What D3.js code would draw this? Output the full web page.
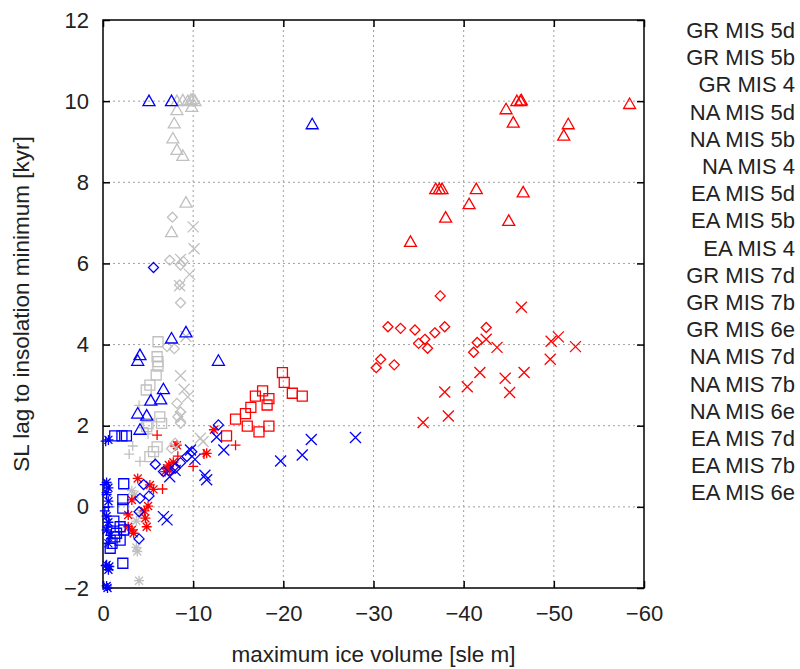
<!DOCTYPE html>
<html><head><meta charset="utf-8">
<script src="https://cdn.jsdelivr.net/npm/d3@7"></script>
<style>body{margin:0;background:#fff}svg{display:block}text{font-family:"Liberation Sans",Arial,sans-serif;fill:#222}</style>
</head><body><svg id="c" width="800" height="669"></svg>
<script>
// ---- data: [maximum ice volume (sle m), SL lag (kyr)] ----
const GR_MIS5d = [[-4.0,2.5],[-3.3,1.5],[-4.1,1.12],[-5.0,1.8],[-4.5,1.95],[-2.9,1.3]];
const GR_MIS5b = [[-3.2,0.4],[-3.7,-0.35],[-3.7,-1.0],[-3.8,-1.1],[-4.0,-1.82],[-4.2,-0.15],[-3.5,0.3]];
const GR_MIS4  = [[-6.1,4.07],[-6.0,3.7],[-6.1,3.58],[-6.1,3.47],[-5.9,3.25],[-5.2,3.0],[-4.8,2.88],[-6.3,2.22],[-6.5,2.06],[-4.85,1.98],[-5.0,2.05],[-6.0,1.48],[-5.6,1.36],[-5.2,1.24]];
const GR_MIS7d = [[-8.2,10.0],[-8.85,10.02],[-9.4,10.0],[-9.75,10.03],[-10.0,10.05],[-10.2,10.0],[-9.85,9.86],[-8.2,9.78],[-7.9,9.45],[-7.75,9.08],[-8.2,8.8],[-8.85,8.65],[-9.2,7.5],[-7.6,6.77]];
const GR_MIS7b = [[-7.7,7.14],[-7.4,6.08],[-8.6,5.96],[-8.5,5.47],[-8.6,5.03],[-7.1,3.95],[-7.9,3.9],[-8.2,2.55],[-8.6,2.34],[-8.3,2.22],[-8.6,2.06],[-8.0,1.57],[-7.6,1.44],[-8.9,6.05]];
const GR_MIS6e = [[-10.0,6.9],[-10.1,6.36],[-8.6,6.1],[-9.6,5.73],[-8.5,5.45],[-9.2,4.2],[-8.6,3.23],[-9.4,2.71],[-8.6,2.22],[-10.8,1.69],[-11.1,1.61],[-9.0,2.9]];

const NA_MIS5d = [[-6.0,1.77],[-8.3,1.25],[-10.0,1.0],[-6.6,0.44],[-14.7,1.52],[-11.2,1.3],[-8.0,1.5]];
const NA_MIS5b = [[-12.3,1.9],[-8.2,1.52],[-7.1,0.95],[-7.4,0.91],[-6.9,0.87],[-7.3,1.03],[-11.5,1.32],[-3.85,0.7],[-5.2,0.54],[-5.6,0.43],[-3.2,0.17],[-5.0,0.02],[-2.8,-0.2],[-4.7,-0.28],[-4.85,-0.49],[-2.8,-0.49],[-3.2,-0.57],[-3.4,-0.65],[-4.6,-0.1],[-7.8,1.1]];
const NA_MIS4  = [[-19.9,3.31],[-20.1,3.07],[-21.0,2.8],[-22.1,2.73],[-14.7,2.16],[-15.8,2.3],[-16.4,2.45],[-16.9,2.73],[-17.7,2.86],[-18.4,2.67],[-18.2,2.51],[-16.0,1.99],[-17.3,1.85],[-18.4,1.99],[-13.7,1.75]];
const NA_MIS7d = [[-58.4,9.93],[-44.7,9.8],[-45.5,9.47],[-45.9,10.0],[-46.3,10.0],[-46.4,10.02],[-51.6,9.43],[-51.1,9.15],[-36.9,7.83],[-37.3,7.83],[-37.6,7.83],[-41.4,7.83],[-40.6,7.46],[-46.6,7.75],[-38.0,7.13],[-45.0,7.05],[-34.1,6.53]];
const NA_MIS7b = [[-37.4,5.2],[-31.6,4.44],[-33.0,4.40],[-34.6,4.36],[-36.8,4.29],[-37.9,4.44],[-35.0,4.03],[-35.7,4.13],[-36.0,3.91],[-30.8,3.64],[-30.3,3.43],[-32.3,3.5],[-41.1,3.81],[-41.5,4.05],[-42.5,4.42]];
const NA_MIS6e = [[-46.4,4.92],[-42.5,4.13],[-43.7,3.93],[-41.8,3.31],[-40.4,2.96],[-37.9,2.83],[-44.6,3.17],[-45.1,2.82],[-46.7,3.31],[-38.3,2.24],[-35.5,2.08],[-49.7,4.08],[-50.5,4.19],[-52.4,3.95],[-49.6,3.64]];

const EA_MIS5d = [[-0.3,1.62],[-0.2,0.55],[-0.4,0.3],[-0.2,-0.1],[-0.5,-0.5],[-0.3,-1.45],[-0.6,0.0]];
const EA_MIS5b = [[-0.6,1.65],[-0.4,0.6],[-0.6,0.47],[-0.4,0.35],[-0.6,0.14],[-0.4,-0.23],[-0.6,-0.38],[-0.4,-0.57],[-0.8,-0.7],[-0.6,-0.9],[-0.4,-1.43],[-0.7,-1.47],[-0.6,-1.55],[-0.4,-1.95],[-0.5,-2.0]];
const EA_MIS4  = [[-1.3,1.75],[-2.1,1.75],[-2.6,1.75],[-2.3,0.57],[-2.2,0.18],[-2.2,-0.03],[-1.9,-0.49],[-2.3,-0.57],[-1.5,-0.65],[-1.3,-0.74],[-1.9,-0.82],[-1.0,-0.9],[-0.8,-1.02],[-2.2,-1.39],[-1.2,-0.35]];
const EA_MIS7d = [[-5.1,10.0],[-7.6,10.0],[-23.2,9.43],[-9.2,4.3],[-7.6,4.15],[-4.1,3.74],[-3.85,3.6],[-12.8,3.6],[-6.7,2.9],[-6.4,2.65],[-5.3,2.62],[-3.85,2.3],[-4.85,2.25],[-4.1,1.9]];
const EA_MIS7b = [[-5.6,5.9],[-12.8,2.02],[-5.8,1.05],[-6.7,0.87],[-8.6,1.09],[-9.3,1.24],[-9.85,1.36],[-4.5,0.55],[-4.1,0.21],[-5.1,0.27],[-4.0,-0.12],[-4.0,-0.79],[-8.0,0.95]];
const EA_MIS6e = [[-23.1,1.66],[-28.0,1.71],[-22.1,1.28],[-19.7,1.13],[-13.4,1.4],[-12.6,1.72],[-11.3,0.78],[-11.5,0.67],[-9.7,1.4],[-10.2,1.17],[-7.4,0.74],[-8.0,0.9],[-6.7,-0.24],[-7.1,-0.32]];

const seriesNames = ["GR MIS 5d","GR MIS 5b","GR MIS 4","NA MIS 5d","NA MIS 5b","NA MIS 4","EA MIS 5d","EA MIS 5b","EA MIS 4",
                     "GR MIS 7d","GR MIS 7b","GR MIS 6e","NA MIS 7d","NA MIS 7b","NA MIS 6e","EA MIS 7d","EA MIS 7b","EA MIS 6e"];
const seriesData = [GR_MIS5d,GR_MIS5b,GR_MIS4,NA_MIS5d,NA_MIS5b,NA_MIS4,EA_MIS5d,EA_MIS5b,EA_MIS4,
                    GR_MIS7d,GR_MIS7b,GR_MIS6e,NA_MIS7d,NA_MIS7b,NA_MIS6e,EA_MIS7d,EA_MIS7b,EA_MIS6e];
const xTicks = [0,-10,-20,-30,-40,-50,-60];
const yTicks = [-2,0,2,4,6,8,10,12];

// ---- styles ----
const regionColor = {GR:"#c0c0c0", NA:"#ff0000", EA:"#0000ff"};
const stageShape = {"5d":"plus","5b":"star","4":"square","7d":"triangle","7b":"diamond","6e":"cross"};

const svg = d3.select("#c");
const L=103, R=644, T=20, B=588;
const x = d3.scaleLinear().domain([0,-60]).range([L,R]);
const y = d3.scaleLinear().domain([-2,12]).range([B,T]);
const FONT = "Liberation Sans, Arial";

// grid
const g = svg.append("g");
g.selectAll(".gx").data(xTicks.slice(1,-1)).join("line")
  .attr("x1",d=>x(d)).attr("x2",d=>x(d)).attr("y1",T).attr("y2",B)
  .attr("stroke","#a0a0a0").attr("stroke-width",1).attr("stroke-dasharray","2,3");
g.selectAll(".gy").data(yTicks.slice(1,-1)).join("line")
  .attr("y1",d=>y(d)).attr("y2",d=>y(d)).attr("x1",L).attr("x2",R)
  .attr("stroke","#a0a0a0").attr("stroke-width",1).attr("stroke-dasharray","2,3");

// axes (ticks inward on all sides)
const tl = 7;
svg.append("g").attr("transform",`translate(0,${B})`)
  .call(d3.axisBottom(x).tickValues(xTicks).tickSize(-tl).tickPadding(17).tickFormat(d3.format("d")))
  .call(a=>{a.select(".domain").remove();a.selectAll("text").attr("font-size",22).attr("fill","#222").style("font-family",FONT);});
svg.append("g").attr("transform",`translate(0,${T})`)
  .call(d3.axisTop(x).tickValues(xTicks).tickSize(-tl).tickFormat(""))
  .call(a=>a.select(".domain").remove());
svg.append("g").attr("transform",`translate(${L},0)`)
  .call(d3.axisLeft(y).tickValues(yTicks).tickSize(-tl).tickPadding(14).tickFormat(d3.format("d")))
  .call(a=>{a.select(".domain").remove();a.selectAll("text").attr("font-size",22).attr("fill","#222").style("font-family",FONT);});
svg.append("g").attr("transform",`translate(${R},0)`)
  .call(d3.axisRight(y).tickValues(yTicks).tickSize(-tl).tickFormat(""))
  .call(a=>a.select(".domain").remove());
svg.selectAll(".tick line").attr("stroke","#000").attr("stroke-width",1.5);
svg.append("rect").attr("x",L).attr("y",T).attr("width",R-L).attr("height",B-T)
  .attr("fill","none").attr("stroke","#000").attr("stroke-width",1.5);

// symbols
function shapePath(s){
  switch(s){
    case "plus": return "M-5,0H5M0,-5V5";
    case "cross": return "M-5.5,-5.5L5.5,5.5M-5.5,5.5L5.5,-5.5";
    case "star": return "M-5,0H5M0,-5V5M-4,-4L4,4M-4,4L4,-4";
    case "square": return "M-5,-5H5V5H-5Z";
    case "triangle": return "M0,-6L6,4.5H-6Z";
    case "diamond": return "M0,-5L5,0L0,5L-5,0Z";
  }
}
const pts = svg.append("g");
seriesData.forEach((data,i)=>{
  const parts = seriesNames[i].split(" ");
  const col = regionColor[parts[0]], shp = stageShape[parts[2]];
  pts.append("g").selectAll("path").data(data).join("path")
    .attr("transform",d=>`translate(${x(d[0])},${y(d[1])})`)
    .attr("d",shapePath(shp)).attr("fill","none").attr("stroke",col).attr("stroke-width",1.3);
});

// legend (labels only)
svg.append("g").selectAll("text").data(seriesNames).join("text")
  .attr("x",795).attr("y",(d,i)=>38+i*27.2).attr("text-anchor","end")
  .attr("font-size",22).text(d=>d);

// axis titles
svg.append("text").attr("x",(L+R)/2).attr("y",662).attr("text-anchor","middle").attr("font-size",22.5)
  .text("maximum ice volume [sle m]");
svg.append("text").attr("transform",`translate(29,${(T+B)/2}) rotate(-90)`).attr("text-anchor","middle").attr("font-size",22.5)
  .text("SL lag to insolation minimum [kyr]");
</script></body></html>
